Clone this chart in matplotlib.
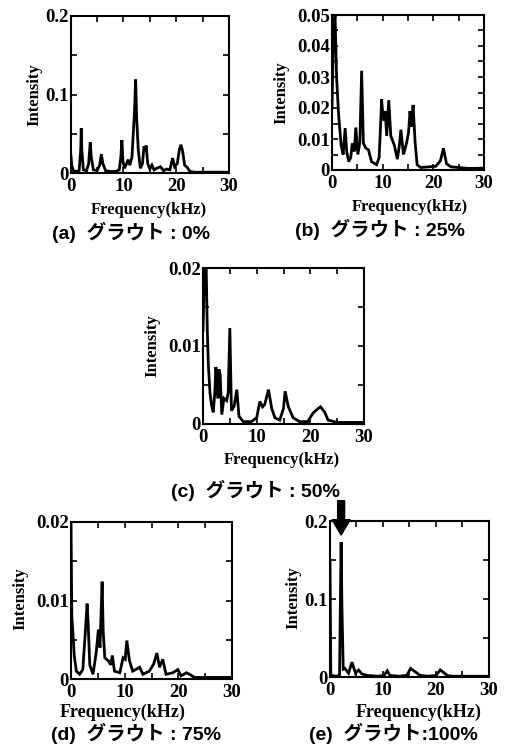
import numpy as np
import matplotlib
matplotlib.use('Agg')
import matplotlib.pyplot as plt
import matplotlib.transforms as mtransforms
from matplotlib.ticker import MultipleLocator, FuncFormatter

# --- datos (frecuencia kHz, intensidad) ---
freq_a = [0, 0.2, 0.5, 1.0, 1.6, 1.9, 2.0, 2.1, 2.4, 3.0, 3.4, 3.7, 3.9, 4.3, 5.0, 5.5, 5.8, 6.1,
          6.6, 7.5, 8.5, 9.2, 9.5, 9.7, 9.9, 10.2, 10.6, 10.9, 11.2, 11.6, 11.9, 12.1, 12.3, 12.5,
          12.8, 13.2, 13.6, 13.9, 14.1, 14.3, 14.6, 15.0, 15.4, 15.8, 16.3, 17.0, 17.6, 18.2, 18.8,
          19.3, 19.7, 20.2, 20.6, 20.9, 21.2, 21.6, 22.1, 22.6, 23.5, 25, 27, 30]
int_a = [0.025, 0.01, 0.003, 0.002, 0.003, 0.03, 0.057, 0.03, 0.004, 0.003, 0.012, 0.039, 0.02,
         0.004, 0.003, 0.01, 0.024, 0.012, 0.003, 0.002, 0.002, 0.004, 0.02, 0.042, 0.015, 0.006,
         0.012, 0.017, 0.01, 0.02, 0.055, 0.08, 0.119, 0.07, 0.03, 0.006, 0.012, 0.034, 0.028,
         0.035, 0.012, 0.005, 0.01, 0.004, 0.006, 0.008, 0.003, 0.005, 0.004, 0.019, 0.008, 0.012,
         0.03, 0.036, 0.028, 0.01, 0.007, 0.002, 0.001, 0.001, 0.001, 0.001]

freq_b = [0, 0.3, 0.6, 0.9, 1.3, 1.8, 2.2, 2.6, 2.9, 3.3, 3.7, 4.0, 4.4, 4.7, 5.1, 5.5, 5.85, 6.2,
          6.7, 7.2, 7.8, 8.8, 9.3, 9.5, 9.8, 10.1, 10.5, 10.8, 11.2, 11.6, 12.3, 12.9, 13.3, 13.6,
          14.1, 14.7, 15.1, 15.4, 15.7, 16.0, 16.4, 16.8, 17.5, 19, 20.5, 21.4, 22.0, 22.6, 23.5,
          25, 27, 30]
int_b = [0.02, 0.045, 0.05, 0.03, 0.018, 0.008, 0.005, 0.0135, 0.006, 0.0027, 0.004, 0.0086,
         0.006, 0.0137, 0.005, 0.009, 0.032, 0.0086, 0.007, 0.0065, 0.0027, 0.0017, 0.004, 0.011,
         0.0228, 0.016, 0.019, 0.011, 0.0225, 0.011, 0.008, 0.0035, 0.008, 0.013, 0.005, 0.0086,
         0.012, 0.019, 0.014, 0.021, 0.009, 0.0017, 0.0008, 0.001, 0.0012, 0.003, 0.007, 0.002,
         0.001, 0.0008, 0.0005, 0.0006]

freq_c = [0, 0.3, 0.6, 0.8, 1.0, 1.3, 1.6, 1.9, 2.2, 2.4, 2.6, 2.8, 3.0, 3.2, 3.5, 3.9, 4.4, 4.7,
          5.0, 5.3, 5.8, 6.3, 6.7, 7.5, 9.0, 10.0, 10.6, 11.1, 11.5, 12.2, 12.8, 13.4, 14.3, 15.0,
          15.3, 15.9, 16.8, 18, 19.5, 20.5, 21.3, 21.9, 22.7, 23.3, 25, 27, 30]
int_c = [0.012, 0.02, 0.02, 0.012, 0.0076, 0.004, 0.0024, 0.0015, 0.004, 0.0073, 0.0055, 0.0033,
         0.007, 0.0063, 0.0012, 0.0033, 0.003, 0.004, 0.0123, 0.0017, 0.0023, 0.0044, 0.001,
         0.0003, 0.0003, 0.0008, 0.0029, 0.0022, 0.0025, 0.0044, 0.002, 0.0008, 0.0005, 0.002,
         0.0042, 0.0022, 0.0008, 0.0003, 0.0003, 0.0014, 0.0019, 0.0022, 0.0015, 0.0005, 0.0002,
         0.0002, 0.0002]

freq_d = [0, 0.15, 0.37, 0.6, 1.0, 1.6, 2.2, 2.7, 3.0, 3.2, 3.5, 4.1, 4.7, 5.1, 5.4, 5.8, 6.0,
          6.3, 7.0, 7.4, 7.7, 8.1, 9.1, 9.7, 10.1, 10.4, 10.9, 11.5, 12.8, 13.4, 14.6, 15.4, 16.0,
          16.5, 17.1, 17.7, 19.0, 19.9, 20.5, 21.5, 22.1, 23, 25, 30]
int_d = [0.02, 0.008, 0.0058, 0.003, 0.001, 0.0006, 0.0012, 0.0063, 0.0096, 0.007, 0.0018,
         0.0006, 0.0034, 0.0063, 0.004, 0.0124, 0.006, 0.0027, 0.0023, 0.0018, 0.003, 0.001,
         0.0008, 0.0027, 0.0025, 0.0049, 0.0023, 0.001, 0.0015, 0.0006, 0.001, 0.0019, 0.0033,
         0.0015, 0.0025, 0.0006, 0.0008, 0.0012, 0.0004, 0.0008, 0.0006, 0.0002, 0.0002, 0.0002]

freq_e = [0, 0.15, 0.4, 1.0, 1.8, 2.0, 2.1, 2.25, 2.5, 2.8, 3.5, 4.15, 4.8, 5.4, 6.0, 7.0, 9.0,
          10.2, 10.8, 11.3, 13, 14.5, 15.2, 15.8, 16.4, 17.0, 18.5, 20.0, 20.8, 21.4, 22.1, 23,
          25, 30]
int_e = [0.15, 0.004, 0.002, 0.001, 0.002, 0.12, 0.173, 0.09, 0.01, 0.011, 0.005, 0.019, 0.005,
         0.009, 0.004, 0.002, 0.001, 0.002, 0.008, 0.002, 0.001, 0.002, 0.011, 0.008, 0.005,
         0.002, 0.001, 0.002, 0.009, 0.006, 0.002, 0.001, 0.001, 0.001]

paneles = [
    # datos, ymax, paso mayor, paso menor, rectangulo (px), etiquetas (px), tamaños
    dict(f=freq_a, y=int_a, ymax=0.2, major=0.1, minor=0.05, box=(70.7, 16, 229, 173),
         cap='(a)  グラウト : 0%', cap_xy=(131, 232), xl_xy=(149, 210), yl_xy=(34, 95), xls=12),
    dict(f=freq_b, y=int_b, ymax=0.05, major=0.01, minor=0.005, box=(332, 15, 484, 170),
         cap='(b)  グラウト : 25%', cap_xy=(380, 229), xl_xy=(410, 207), yl_xy=(281, 93), xls=12),
    dict(f=freq_c, y=int_c, ymax=0.02, major=0.01, minor=0.005, box=(203, 268, 364, 424),
         cap='(c)  グラウト : 50%', cap_xy=(255, 490), xl_xy=(282, 460), yl_xy=(152, 346), xls=12),
    dict(f=freq_d, y=int_d, ymax=0.02, major=0.01, minor=0.005, box=(71, 522, 232, 679),
         cap='(d)  グラウト : 75%', cap_xy=(136, 733), xl_xy=(123, 712), yl_xy=(20, 599), xls=13),
    dict(f=freq_e, y=int_e, ymax=0.2, major=0.1, minor=0.05, box=(330, 521, 489, 677),
         cap='(e)  グラウト:100%', cap_xy=(393, 733), xl_xy=(419, 712), yl_xy=(293, 598), xls=13),
]

W, H = 506, 749
fig = plt.figure(figsize=(W / 100, H / 100), dpi=100)

serif = dict(family='Liberation Serif', weight='bold')
cap_font = ['Liberation Sans', 'Noto Sans CJK JP']


def fmt(v, pos):
    if abs(v) < 1e-12:
        return '0'
    return ('%.3f' % v).rstrip('0')


# desplazamiento para el "0" del eje y (queda un poco por encima de la esquina)
subir = mtransforms.ScaledTranslation(0, 4 / 72, fig.dpi_scale_trans)

for p in paneles:
    x0, y0, x1, y1 = p['box']
    ax = fig.add_axes([x0 / W, 1 - y1 / H, (x1 - x0) / W, (y1 - y0) / H])
    ax.plot(p['f'], p['y'], color='black', lw=2.0, solid_joinstyle='miter')
    ax.set_xlim(0, 30)
    ax.set_ylim(0, p['ymax'])
    ax.xaxis.set_major_locator(MultipleLocator(10))
    ax.xaxis.set_minor_locator(MultipleLocator(5))
    ax.yaxis.set_major_locator(MultipleLocator(p['major']))
    ax.yaxis.set_minor_locator(MultipleLocator(p['minor']))
    ax.yaxis.set_major_formatter(FuncFormatter(fmt))
    ax.tick_params(which='both', direction='in', top=True, right=True, length=4, width=1.2,
                   labelsize=13.5)
    ax.tick_params(axis='x', pad=3.5)
    ax.tick_params(axis='y', pad=1.5)
    for lab in ax.get_xticklabels() + ax.get_yticklabels():
        lab.set_fontfamily('Liberation Serif')
        lab.set_fontweight('bold')
    for s in ax.spines.values():
        s.set_linewidth(1.5)

    fig.text(p['xl_xy'][0] / W, 1 - p['xl_xy'][1] / H, 'Frequency(kHz)', ha='center',
             va='center', fontsize=p['xls'], **serif)
    fig.text(p['yl_xy'][0] / W, 1 - p['yl_xy'][1] / H, 'Intensity', ha='center', va='center',
             rotation=90, fontsize=12, **serif)
    fig.text(p['cap_xy'][0] / W, 1 - p['cap_xy'][1] / H, p['cap'], ha='center', va='center',
             fontsize=14, family=cap_font, weight='bold')

    if p['cap'].startswith('(e)'):
        # flecha sobre el pico principal
        ax.annotate('', xy=(2.1, 0.182), xytext=(2.1, 0.226), annotation_clip=False,
                    arrowprops=dict(facecolor='black', edgecolor='black', width=5,
                                    headwidth=13, headlength=11, shrink=0))

    fig.canvas.draw()
    cero = ax.yaxis.get_major_ticks()[0].label1
    cero.set_transform(cero.get_transform() + subir)

fig.savefig('out.png', dpi=100)
